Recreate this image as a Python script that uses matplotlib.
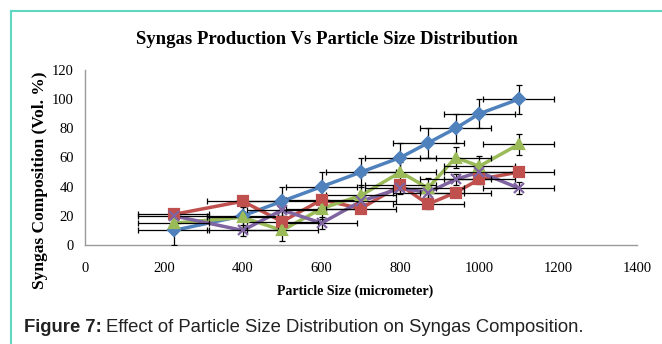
import matplotlib.pyplot as plt
from matplotlib.lines import Line2D

# particle size (micrometer) and syngas composition (vol %)
size = [225, 400, 500, 600, 700, 800, 870, 940, 1000, 1100]
blue = [10, 20, 30, 40, 50, 60, 70, 80, 90, 100]
red = [21, 30, 16, 31, 25, 41, 28, 36, 45, 50]
green = [15, 19, 10, 25, 34, 50, 39, 60, 54, 69]
purple = [20, 10, 24, 15, 30, 39, 36, 45, 50, 39]

x_err = 90
y_errs = [10, 3, 7, 4]

series = [
    (blue, "#4F81BD", "D", 6),
    (red, "#C0504D", "s", 7),
    (green, "#9BBB59", "^", 7),
    (purple, "#8064A2", "x", 6.5),
]


def draw():
    fig = plt.figure(figsize=(6.62, 3.44), dpi=100)
    ax = fig.add_axes([85 / 662, 1 - 245 / 344, (637 - 85) / 662, 175 / 344])

    for (vals, col, mk, ms), ye in zip(series, y_errs):
        ax.plot(size, vals, color=col, lw=2.5, zorder=2)
        ax.errorbar(size, vals, xerr=x_err, yerr=ye, fmt="none",
                    ecolor="black", elinewidth=0.9, capsize=2.5,
                    capthick=0.9, zorder=3)
        ax.plot(size, vals, ls="none", marker=mk, ms=ms, mew=1.6,
                mec=col, mfc=col, zorder=4)

    ax.set_xlim(0, 1400)
    ax.set_ylim(0, 120)
    ax.set_xticks(range(0, 1401, 200))
    ax.set_yticks(range(0, 121, 20))
    ax.tick_params(length=0, labelsize=10.5)
    ax.tick_params(axis="x", pad=12)
    ax.tick_params(axis="y", pad=8)
    for lab in ax.get_xticklabels() + ax.get_yticklabels():
        lab.set_family("Liberation Serif")
    for s in ["top", "right"]:
        ax.spines[s].set_visible(False)
    for s in ["left", "bottom"]:
        ax.spines[s].set_color("#9a9a9a")
        ax.spines[s].set_linewidth(1.0)

    fig.text(327 / 662, 1 - 40 / 344, "Syngas Production Vs Particle Size Distribution",
             family="Liberation Serif", weight="bold", size=13.5,
             ha="center", va="center")
    fig.text(355 / 662, 1 - 291 / 344, "Particle Size (micrometer)",
             family="Liberation Serif", weight="bold", size=10,
             ha="center", va="center")
    fig.text(40 / 662, 1 - 180 / 344, "Syngas Composition (Vol. %)",
             family="Liberation Serif", weight="bold", size=12.5,
             ha="center", va="center", rotation=90)

    t = fig.text(24 / 662, 1 - 328 / 344, "Figure 7:", family="Liberation Sans",
                 weight="bold", size=13.3, ha="left", va="center", color="#222222")
    fig.canvas.draw()
    bb = t.get_window_extent()
    fig.text(bb.x1 / fig.bbox.width + 4 / 662, 1 - 328 / 344,
             "Effect of Particle Size Distribution on Syngas Composition.",
             family="Liberation Sans", size=13.3, ha="left", va="center",
             color="#222222")

    # teal frame around the chart
    teal = "#5DD6C2"
    fig.add_artist(Line2D([11 / 662, 1], [1 - 10.5 / 344] * 2, color=teal,
                          lw=1.5, transform=fig.transFigure))
    fig.add_artist(Line2D([11 / 662] * 2, [0, 1 - 10.5 / 344], color=teal,
                          lw=1.5, transform=fig.transFigure))

    fig.savefig("out.png", dpi=100)
    plt.close(fig)


if __name__ == "__main__":
    draw()
